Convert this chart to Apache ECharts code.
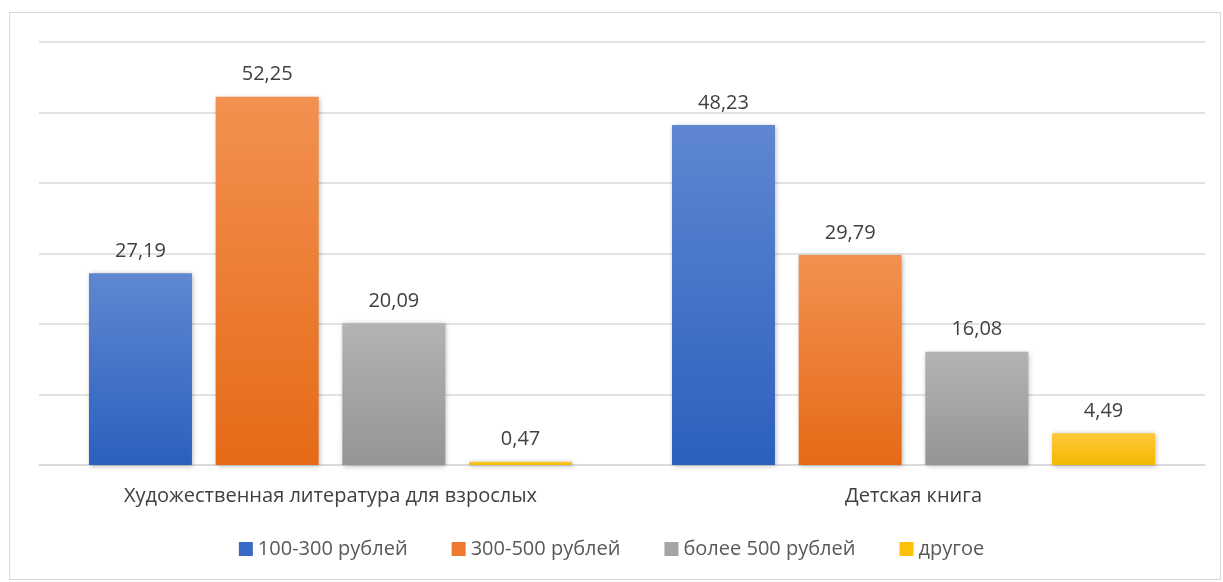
<!DOCTYPE html>
<html><head><meta charset="utf-8">
<script src="https://cdn.jsdelivr.net/npm/echarts@6/dist/echarts.min.js"></script>
<style>html,body{margin:0;padding:0;background:#fff}#c{width:1223px;height:582px}
#frame{position:absolute;left:9px;top:12px;width:1212px;height:568px;border:1px solid #d9d9d9;box-sizing:border-box;pointer-events:none}</style>
</head><body><div id="c"></div><div id="frame"></div>
<script>
var categories = ['Художественная литература для взрослых', 'Детская книга'];
var seriesNames = ['100-300 рублей', '300-500 рублей', 'более 500 рублей', 'другое'];
var s1 = [27.19, 48.23];
var s2 = [52.25, 29.79];
var s3 = [20.09, 16.08];
var s4 = [0.47, 4.49];
var values = [s1, s2, s3, s4];
var gradients = [['#5f87d1', '#2c5fbe'], ['#f39150', '#e56a17'], ['#b3b3b3', '#959595'], ['#ffca3a', '#f2b800']];
var legendColors = ['#3a69c6', '#ee7a2e', '#a5a5a5', '#fdc10a'];
var font = 'Open Sans, Noto Sans, sans-serif';
var chart = echarts.init(document.getElementById('c'));
chart.setOption({
  animation: false,
  grid: {left: 39, right: 18, top: 42, bottom: 117},
  legend: {
    bottom: 18, left: 'center', itemWidth: 14, itemHeight: 14, itemGap: 44, icon: 'rect',
    textStyle: {fontFamily: font, fontSize: 20, color: '#595959', padding: [0, 0, 0, 0]},
    data: seriesNames.map(function (n, i) { return {name: n, itemStyle: {color: legendColors[i]}}; })
  },
  xAxis: {
    type: 'category', data: categories,
    axisLine: {lineStyle: {color: '#d9d9d9', width: 1.5}}, axisTick: {show: false},
    axisLabel: {fontFamily: font, fontSize: 20, color: '#404040', margin: 21}
  },
  yAxis: {
    type: 'value', min: 0, max: 60, interval: 10,
    axisLabel: {show: false}, axisLine: {show: false}, axisTick: {show: false},
    splitLine: {lineStyle: {color: '#d9d9d9', width: 1.5}}
  },
  series: values.map(function (v, i) {
    return {
      name: seriesNames[i], type: 'bar', data: v, barWidth: 103, barGap: '23%',
      itemStyle: {
        color: new echarts.graphic.LinearGradient(0, 0, 0, 1, [{offset: 0, color: gradients[i][0]}, {offset: 1, color: gradients[i][1]}]),
        shadowBlur: 5, shadowColor: 'rgba(0,0,0,0.3)', shadowOffsetX: 1, shadowOffsetY: 1
      },
      label: {
        show: true, position: 'top', distance: 12, fontFamily: font, fontSize: 20, color: '#404040',
        formatter: function (p) { return p.value.toFixed(2).replace('.', ','); }
      }
    };
  })
});
</script></body></html>
